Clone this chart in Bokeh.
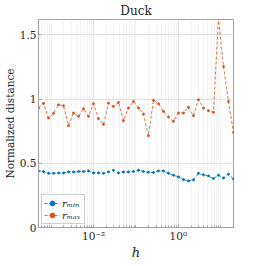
from bokeh.plotting import figure
from bokeh.models import FixedTicker, Range1d, Legend, LegendItem
from bokeh.embed import file_html
from bokeh.resources import INLINE

# ---- data ----
h = [5.01e-4, 6.58e-4, 8.63e-4, 1.13e-3, 1.49e-3, 1.95e-3, 2.56e-3, 3.36e-3, 4.41e-3, 5.78e-3,
     7.57e-3, 9.93e-3, 1.30e-2, 1.71e-2, 2.24e-2, 2.94e-2, 3.86e-2, 5.07e-2, 6.65e-2, 8.73e-2,
     0.115, 0.150, 0.197, 0.259, 0.340, 0.446, 0.585, 0.767, 1.01, 1.32,
     1.73, 2.27, 2.98, 3.91, 5.13, 6.73, 8.83, 11.6, 15.2, 20.0]
r_min = [0.441, 0.436, 0.422, 0.422, 0.425, 0.425, 0.433, 0.433, 0.436, 0.436,
         0.441, 0.425, 0.425, 0.422, 0.433, 0.446, 0.425, 0.433, 0.433, 0.436,
         0.446, 0.436, 0.430, 0.428, 0.441, 0.441, 0.422, 0.407, 0.394, 0.373,
         0.363, 0.371, 0.422, 0.410, 0.402, 0.381, 0.407, 0.386, 0.415, 0.378]
r_max = [0.930, 0.967, 0.853, 0.889, 0.956, 0.949, 0.793, 0.892, 0.866, 0.925,
         0.866, 0.964, 0.848, 0.803, 0.969, 0.943, 0.974, 0.832, 0.930, 0.982,
         0.930, 0.884, 0.715, 0.990, 0.964, 0.904, 0.861, 0.827, 0.892, 0.892,
         0.936, 0.871, 0.995, 0.930, 0.910, 0.897, 1.630, 1.254, 0.982, 0.740]
y_ticks = [0, 0.5, 1, 1.5]
y_labels = {0: "0", 0.5: "0.5", 1: "1", 1.5: "1.5"}
x_ticks = [1e-2, 1.0]
x_labels = {1e-2: "10\u207b\u00b2", 1.0: "10\u2070"}

FONT = "DejaVu Serif"
TXT = "#262626"
AXC = "#a0a0a0"
BLUE = "#0072BD"
ORANGE = "#D95319"

p = figure(width=250, height=262, x_axis_type="log",
           x_range=Range1d(5.01e-4, 20.0), y_range=Range1d(0, 1.62),
           output_backend="svg", toolbar_location=None,
           min_border_left=31, min_border_right=17, min_border_top=18, min_border_bottom=0)

p.title.text = "Duck"
p.title.align = "center"
p.title.text_font = FONT
p.title.text_font_size = "12px"
p.title.text_font_style = "normal"
p.title.text_color = TXT
p.title.standoff = 3
p.title.offset = 0

minor = []
for e in range(-4, 2):
    for m in range(1, 10):
        minor.append(m * 10.0 ** e)
p.xaxis.ticker = FixedTicker(ticks=x_ticks, minor_ticks=minor)
p.xaxis.major_label_overrides = x_labels
p.yaxis.ticker = FixedTicker(ticks=y_ticks)
p.yaxis.major_label_overrides = y_labels

for ax in (p.xaxis, p.yaxis):
    ax.major_label_text_font = FONT
    ax.major_label_text_font_size = "10.5px"
    ax.major_label_text_color = TXT
    ax.axis_label_text_font = FONT
    ax.axis_label_text_font_style = "normal"
    ax.axis_label_text_color = TXT
    ax.axis_line_color = AXC
    ax.major_tick_line_color = AXC
    ax.minor_tick_line_color = AXC
    ax.major_tick_in = 3
    ax.major_tick_out = 0
    ax.minor_tick_in = 2
    ax.minor_tick_out = 0
    ax.major_label_standoff = 2

p.yaxis.axis_label = "Normalized distance"
p.yaxis.axis_label_text_font_size = "10.5px"
p.yaxis.axis_label_standoff = 1
p.xaxis.axis_label = "h"
p.xaxis.axis_label_text_font_size = "13px"
p.xaxis.axis_label_text_font_style = "italic"
p.xaxis.axis_label_standoff = 0

p.xgrid.ticker = FixedTicker(ticks=x_ticks, minor_ticks=minor)
p.xgrid.grid_line_color = "#e2e2e2"
p.xgrid.minor_grid_line_color = "#f3f3f3"
p.ygrid.grid_line_color = "#e2e2e2"
p.outline_line_color = AXC
p.outline_line_width = 1

l1 = p.line(h, r_min, line_color=BLUE, line_width=0.8, line_dash="3 2")
s1 = p.scatter(h, r_min, size=2, color=BLUE)
l2 = p.line(h, r_max, line_color=ORANGE, line_width=0.8, line_dash="3 2")
s2 = p.scatter(h, r_max, size=2, color=ORANGE)

legend = Legend(items=[LegendItem(label="r\u2098\u1d62\u2099", renderers=[l1, s1]),
                       LegendItem(label="r\u2098\u2090\u2093", renderers=[l2, s2])],
                location="bottom_left")
legend.label_text_font = FONT
legend.label_text_font_size = "10px"
legend.label_text_font_style = "italic"
legend.label_text_color = TXT
legend.glyph_width = 16
legend.glyph_height = 12
legend.label_height = 12
legend.label_standoff = 2
legend.spacing = 0
legend.padding = 2
legend.margin = 3
legend.border_line_color = AXC
p.add_layout(legend)

open("out.html", "w").write(file_html(p, INLINE))
